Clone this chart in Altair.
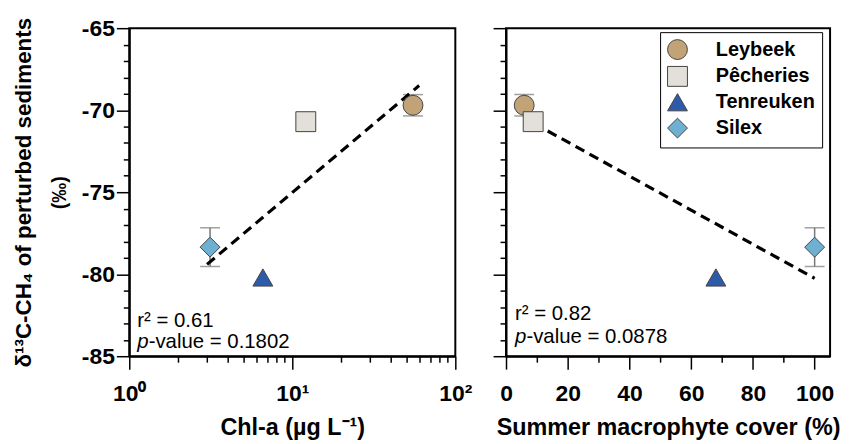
import altair as alt
import pandas as pd

sites = ["Leybeek", "Pêcheries", "Tenreuken", "Silex"]
chl_a = [55.0, 12.1, 6.6, 3.13]
macrophyte = [5.9, 8.8, 68.0, 100.0]
d13c = [-69.7, -70.7, -80.2, -78.35]
d13c_err = [0.65, 0.0, 0.0, 1.18]

fit_chl_x = [3.0, 60.0]
fit_chl_y = [-79.4, -68.5]
fit_mac_x = [9.0, 100.0]
fit_mac_y = [-70.8, -80.25]

colors = ["#C2A378", "#E3E0D9", "#2D5BA9", "#6DB0D2"]
shapes = ["circle", "square", "triangle-up", "diamond"]

stats_chl = ["r² = 0.61", "p", "-value = 0.1802"]
stats_mac = ["r² = 0.82", "p", "-value = 0.0878"]

y_ticks = list(range(-85, -64))
chl_ticks = [1, 2, 3, 4, 5, 6, 7, 8, 9, 10, 20, 30, 40, 50, 60, 70, 80, 90, 100]
mac_ticks = list(range(0, 101, 10))

FONT = "Liberation Sans"

df = pd.DataFrame({"site": sites, "chla": chl_a, "macro": macrophyte,
                   "d13c": d13c, "err": d13c_err})
df["lo"] = df["d13c"] - df["err"]
df["hi"] = df["d13c"] + df["err"]
err_df = df[df["err"] > 0].copy()

fit_chl = pd.DataFrame({"chla": fit_chl_x, "d13c": fit_chl_y})
fit_mac = pd.DataFrame({"macro": fit_mac_x, "d13c": fit_mac_y})

yscale = alt.Scale(domain=[-85, -65], nice=False, zero=False)


def tcond(major_test):
    return {"condition": {"test": major_test, "value": 13}, "value": 6}


color_scale = alt.Scale(domain=sites, range=colors)
shape_scale = alt.Scale(domain=sites, range=shapes)


def panel(xenc, fit_df, yaxis_main, yaxis_extra, stats, stat_pos, legend):
    rules = alt.Chart(err_df).mark_rule(color="#777777", strokeWidth=1.5).encode(
        x=xenc, y=alt.Y("lo:Q", scale=yscale, axis=yaxis_main), y2="hi:Q")
    caps = alt.Chart(err_df).transform_fold(["lo", "hi"], as_=["k", "v"]).mark_tick(
        orient="horizontal", size=20, thickness=1.5, color="#777777").encode(
        x=xenc, y=alt.Y("v:Q", scale=yscale, axis=None))
    line = alt.Chart(fit_df).mark_line(color="black", strokeWidth=3.2, strokeDash=[10, 6]).encode(
        x=xenc, y=alt.Y("d13c:Q", scale=yscale, axis=yaxis_extra))
    if legend is None:
        col = alt.Color("site:N", scale=color_scale, legend=None)
        shp = alt.Shape("site:N", scale=shape_scale, legend=None)
    else:
        col = alt.Color("site:N", scale=color_scale, legend=legend, title=None)
        shp = alt.Shape("site:N", scale=shape_scale, legend=legend, title=None)
    pts = alt.Chart(df).mark_point(filled=True, size=400, opacity=1, stroke="#444444",
                                   strokeWidth=1).encode(
        x=xenc, y=alt.Y("d13c:Q", scale=yscale, axis=None), color=col, shape=shp)
    sx, sy1, sy2 = stat_pos
    t1 = alt.Chart(pd.DataFrame({"t": [stats[0]]})).mark_text(
        align="left", baseline="middle", fontSize=20.5, font=FONT, color="black").encode(
        text="t:N", x=alt.value(sx), y=alt.value(sy1))
    t2 = alt.Chart(pd.DataFrame({"t": [stats[1]]})).mark_text(
        align="left", baseline="middle", fontSize=20.5, font=FONT, fontStyle="italic",
        color="black").encode(text="t:N", x=alt.value(sx), y=alt.value(sy2))
    t3 = alt.Chart(pd.DataFrame({"t": [stats[2]]})).mark_text(
        align="left", baseline="middle", fontSize=20.5, font=FONT, color="black").encode(
        text="t:N", x=alt.value(sx + 11.5), y=alt.value(sy2))
    return alt.layer(rules, caps, line, pts, t1, t2, t3).resolve_axis(y="independent")


label_kw = dict(labelFont=FONT, labelFontSize=23, labelFontWeight="bold", labelColor="black",
                titleFont=FONT, titleFontWeight="bold", titleColor="black", grid=False)

left_x = alt.X("chla:Q", scale=alt.Scale(type="log", domain=[1, 100], nice=False),
               axis=alt.Axis(values=chl_ticks,
                             labelExpr="datum.value == 1 ? '10⁰' : datum.value == 10 ? '10¹' : datum.value == 100 ? '10²' : ''",
                             tickSize=tcond("datum.value == 1 || datum.value == 10 || datum.value == 100"),
                             labelPadding=14, title="Chl-a (µg L⁻¹)", titleFontSize=23.5,
                             titlePadding=10, labelFlush=False, **label_kw))
left_y_main = alt.Axis(values=y_ticks,
                       labelExpr="datum.value % 5 == 0 ? '' + datum.value : ''",
                       tickSize=tcond("datum.value % 5 == 0"), labelPadding=2,
                       title="δ¹³C-CH₄ of perturbed sediments", titleFontSize=22.5,
                       titlePadding=46, **label_kw)
left_y_extra = alt.Axis(orient="left", labels=False, ticks=False, domain=False, title="(‰)",
                        titleFont=FONT, titleFontSize=20, titleFontWeight="bold",
                        titleColor="black", titlePadding=60, grid=False)

right_x = alt.X("macro:Q", scale=alt.Scale(domain=[0, 105], nice=False),
                axis=alt.Axis(values=mac_ticks,
                              labelExpr="datum.value % 20 == 0 ? '' + datum.value : ''",
                              tickSize=tcond("datum.value % 20 == 0"),
                              labelPadding=14, title="Summer macrophyte cover (%)",
                              titleFontSize=23.5, titlePadding=10, labelFlush=False, **label_kw))
right_y = alt.Axis(values=y_ticks, labels=False, tickSize=tcond("datum.value % 5 == 0"),
                   title=None, grid=False)

legend = alt.Legend(orient="none", legendX=155, legendY=4, strokeColor="black",
                    fillColor="white", padding=7, rowPadding=2, labelOffset=28,
                    symbolSize=400, symbolStrokeColor="#444444", symbolStrokeWidth=1,
                    labelFont=FONT, labelFontSize=20, labelFontWeight="bold",
                    labelColor="black")

left = panel(left_x, fit_chl, left_y_main, left_y_extra, stats_chl, (8, 295, 316), None
             ).properties(width=328, height=330)
right = panel(right_x, fit_mac, right_y, None, stats_mac, (9, 288, 311), legend
              ).properties(width=326, height=330)

chart = alt.hconcat(left, right, spacing=51, bounds="flush").resolve_scale(
    color="independent", shape="independent").properties(
    padding={"left": 3, "top": 7, "right": 0, "bottom": 0}
).configure_view(stroke="black", strokeWidth=2).configure_axis(
    domainColor="black", domainWidth=2, tickColor="black", tickWidth=1.5)

chart.save("out.html", embed_options={"renderer": "svg", "actions": False})
